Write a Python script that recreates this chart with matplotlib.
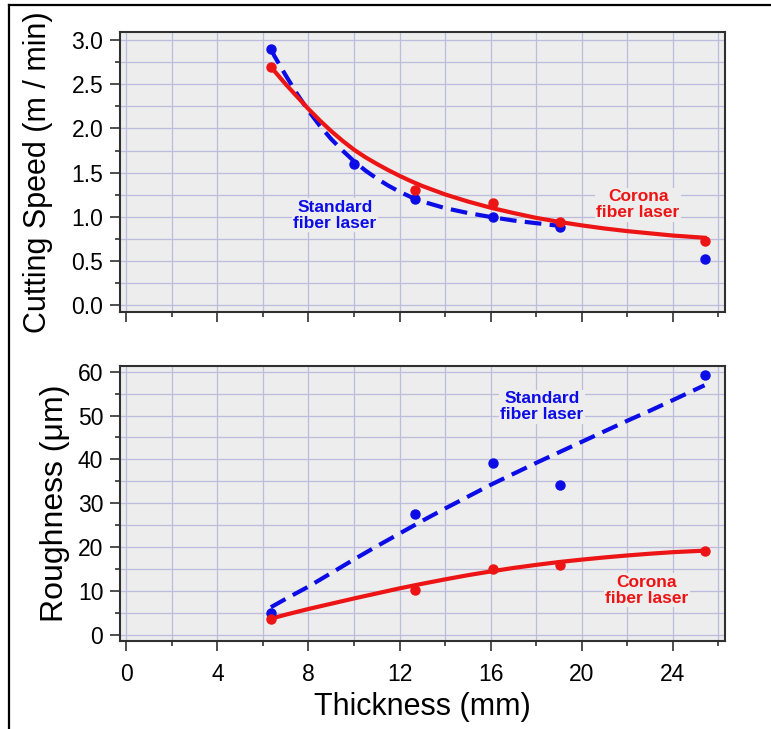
import matplotlib
matplotlib.use("Agg")
import matplotlib.pyplot as plt
from matplotlib.ticker import MultipleLocator, FormatStrFormatter
from matplotlib.lines import Line2D

plt.rcParams['font.family'] = ['Liberation Sans', 'DejaVu Sans']

# ---- data ----
thick_std = [6.35, 10.0, 12.7, 16.1, 19.05, 25.4]
speed_std = [2.90, 1.60, 1.20, 1.00, 0.89, 0.525]
thick_cor = [6.35, 12.7, 16.1, 19.05, 25.4]
speed_cor = [2.70, 1.30, 1.154, 0.948, 0.727]

# fitted curves
fit_speed_std_x = [6.35, 6.5, 7, 7.5, 8, 8.5, 9, 9.5, 10, 10.5, 11, 11.5, 12, 12.5, 13,
                   14, 15, 16, 17, 18, 19]
fit_speed_std_y = [2.90, 2.82, 2.60, 2.39, 2.20, 2.03, 1.88, 1.75, 1.63, 1.525, 1.435, 1.355,
                   1.285, 1.225, 1.175, 1.10, 1.045, 1.00, 0.96, 0.93, 0.90]
fit_speed_cor_x = [6.35, 6.5, 7, 7.5, 8, 8.5, 9, 9.5, 10, 10.5, 11, 11.5, 12, 12.5, 13,
                   14, 15, 16, 17, 18, 19, 20, 21, 22, 23, 24, 25.4]
fit_speed_cor_y = [2.70, 2.65, 2.50, 2.36, 2.22, 2.09, 1.97, 1.86, 1.76, 1.675, 1.60, 1.53,
                   1.465, 1.405, 1.35, 1.255, 1.175, 1.105, 1.045, 0.99, 0.945, 0.905, 0.87,
                   0.84, 0.815, 0.79, 0.765]

thick_r = [6.35, 12.7, 16.1, 19.05, 25.4]
rough_std = [5.0, 27.5, 39.1, 34.1, 59.3]
rough_cor = [3.7, 10.3, 15.0, 16.0, 19.1]

fit_rough_x = [6.35, 7, 8, 9, 10, 11, 12, 13, 14, 15, 16, 17, 18, 19, 20, 21, 22, 23, 24, 25.4]
fit_rough_std_y = [6.3, 8.2, 11.0, 14.1, 17.2, 20.2, 23.1, 26.0, 28.8, 31.5, 34.2, 36.7, 39.2,
                   41.6, 44.0, 46.4, 48.8, 51.1, 53.5, 56.9]
fit_rough_cor_y = [3.7, 4.6, 5.9, 7.1, 8.3, 9.45, 10.6, 11.65, 12.65, 13.6, 14.45, 15.25, 15.95,
                   16.6, 17.15, 17.65, 18.1, 18.5, 18.85, 19.2]

x_ticks = [0, 4, 8, 12, 16, 20, 24]

BLUE = '#0c0ce6'
RED = '#ec1414'
BG = '#ededed'
GRID = '#bcbcdc'

fig = plt.figure(figsize=(7.71, 7.29), dpi=100)
ax1 = fig.add_axes([120/771, 1-312/729, 605/771, 280/729])
ax2 = fig.add_axes([120/771, 1-641/729, 605/771, 275/729])

def style(ax):
    ax.set_facecolor(BG)
    ax.set_xlim(-0.28, 26.3)
    ax.set_xticks(x_ticks)
    ax.xaxis.set_minor_locator(MultipleLocator(2))
    for s in ax.spines.values():
        s.set_color('#303030')
        s.set_linewidth(1.5)
    ax.tick_params(which='major', direction='out', length=7, width=1.2, color='#303030', labelsize=16.5)
    ax.tick_params(which='minor', direction='out', length=3.5, width=1.2, color='#303030')
    ax.tick_params(axis='y', pad=5)
    ax.tick_params(axis='x', pad=9)
    ax.grid(True, which='both', color=GRID, linewidth=0.9)
    ax.set_axisbelow(True)

style(ax1)
style(ax2)

bb = dict(facecolor=BG, edgecolor='none', pad=1)
tkw = dict(fontsize=12.5, fontweight='bold', ha='center', va='center', linespacing=1.1, bbox=bb, zorder=2)

# top panel
ax1.set_ylim(-0.074, 3.09)
ax1.yaxis.set_major_locator(MultipleLocator(0.5))
ax1.yaxis.set_minor_locator(MultipleLocator(0.25))
ax1.yaxis.set_major_formatter(FormatStrFormatter('%.1f'))
ax1.tick_params(axis='x', labelbottom=False)
ax1.plot(fit_speed_std_x, fit_speed_std_y, color=BLUE, lw=3, linestyle=(0, (4, 2)), zorder=3)
ax1.plot(fit_speed_cor_x, fit_speed_cor_y, color=RED, lw=3, zorder=4)
ax1.plot(thick_std, speed_std, 'o', color=BLUE, ms=6.5, zorder=5)
ax1.plot(thick_cor, speed_cor, 'o', color=RED, ms=6.5, zorder=5)
ax1.set_ylabel('Cutting Speed (m / min)', fontsize=22, labelpad=13)
ax1.text(9.17, 1.02, 'Standard\nfiber laser', color=BLUE, **tkw)
ax1.text(22.48, 1.137, 'Corona\nfiber laser', color=RED, **tkw)

# bottom panel
ax2.set_ylim(-1.4, 61.3)
ax2.yaxis.set_major_locator(MultipleLocator(10))
ax2.yaxis.set_minor_locator(MultipleLocator(5))
ax2.plot(fit_rough_x, fit_rough_std_y, color=BLUE, lw=3, linestyle=(0, (4, 2)), zorder=3)
ax2.plot(fit_rough_x, fit_rough_cor_y, color=RED, lw=3, zorder=4)
ax2.plot(thick_r, rough_std, 'o', color=BLUE, ms=6.5, zorder=5)
ax2.plot(thick_r, rough_cor, 'o', color=RED, ms=6.5, zorder=5)
ax2.set_ylabel('Roughness (\u03bcm)', fontsize=23, labelpad=6)
ax2.set_xlabel('Thickness (mm)', fontsize=22, labelpad=4)
ax2.text(18.25, 52.0, 'Standard\nfiber laser', color=BLUE, **tkw)
ax2.text(22.86, 10.2, 'Corona\nfiber laser', color=RED, **tkw)

# outer frame lines (top and left)
fig.add_artist(Line2D([8.5/771, 1.0], [1-4.5/729, 1-4.5/729], color='black', lw=1.6, transform=fig.transFigure))
fig.add_artist(Line2D([8.5/771, 8.5/771], [0.0, 1-4.5/729], color='black', lw=1.6, transform=fig.transFigure))

fig.savefig('out.png', dpi=100)
